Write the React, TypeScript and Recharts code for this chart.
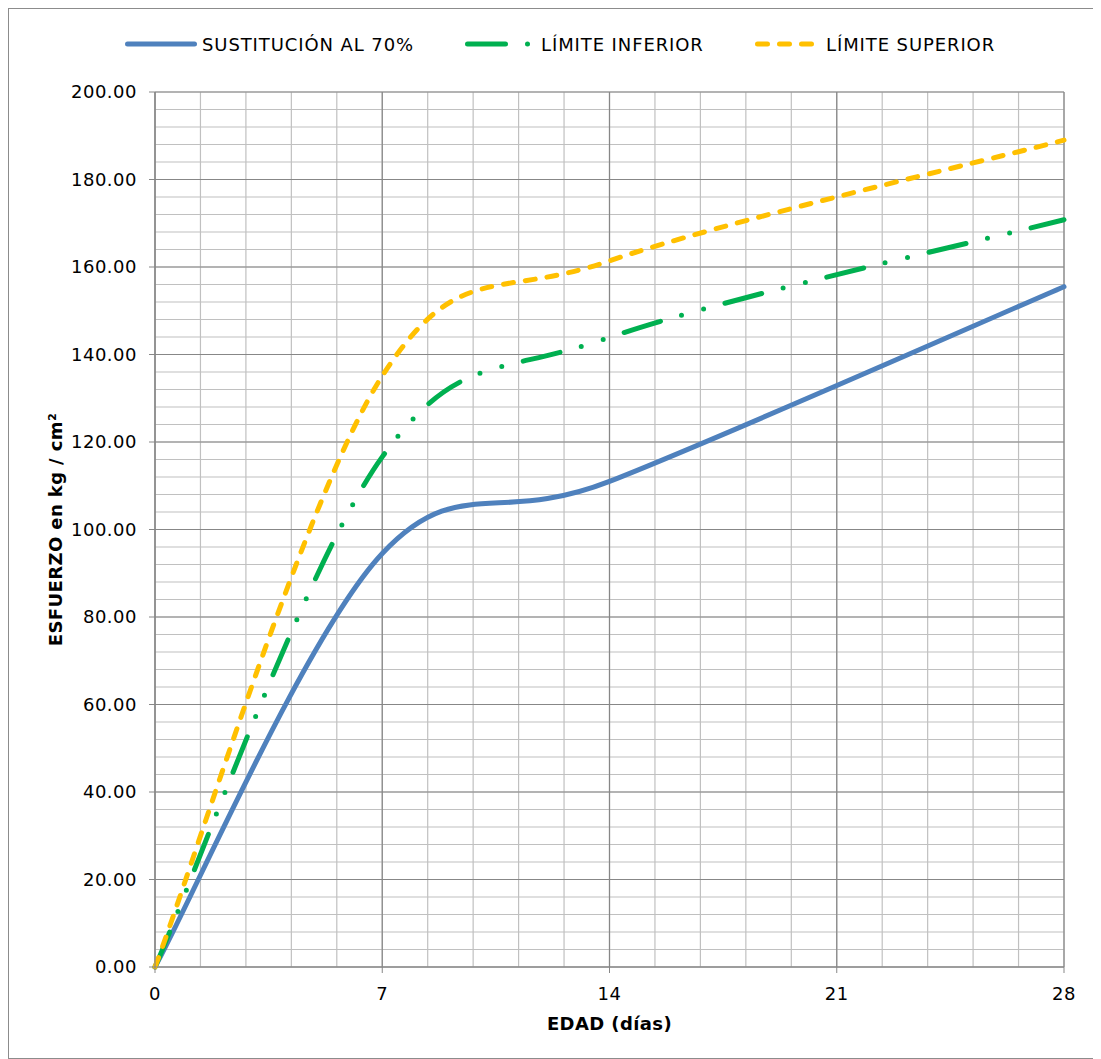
import React from 'react';
import { LineChart, Line, XAxis, YAxis, CartesianGrid, Legend, Label } from 'recharts';

// ---- data ----
const DAYS = [0, 7, 14, 28];
const SUSTITUCION_70 = [0, 94.5, 111, 155.5];
const LIMITE_INFERIOR = [0, 116.6, 143.9, 170.8];
const LIMITE_SUPERIOR = [0, 135.1, 161.4, 189];

const X_TICKS = [0, 7, 14, 21, 28];
const Y_TICKS = [0, 20, 40, 60, 80, 100, 120, 140, 160, 180, 200];
const X_MINOR = [0, 1.4, 2.8, 4.2, 5.6, 7, 8.4, 9.8, 11.2, 12.6, 14, 15.4, 16.8, 18.2, 19.6, 21, 22.4, 23.8, 25.2, 26.6, 28];
const Y_MINOR = Array.from({ length: 51 }, (_, i) => i * 4);

const SERIES_NAMES = ['SUSTITUCIÓN AL 70%', 'LÍMITE INFERIOR', 'LÍMITE SUPERIOR'];

const data = DAYS.map((d, i) => ({
  day: d,
  sust: SUSTITUCION_70[i],
  inf: LIMITE_INFERIOR[i],
  sup: LIMITE_SUPERIOR[i],
}));

const FONT = "Verdana, 'DejaVu Sans', sans-serif";
const BLUE = '#4F81BD';
const GREEN = '#00B050';
const YELLOW = '#FFC000';
const GREEN_DASH = '38 22 0 23 0 22';
const YELLOW_DASH = '10 12';

// Excel-like smoothed line (Catmull-Rom style Bezier)
const TENSION = 1 / 6;
function excelSmooth(context: any) {
  let pts: number[][] = [];
  return {
    areaStart() {},
    areaEnd() {},
    lineStart() {
      pts = [];
    },
    point(x: number, y: number) {
      pts.push([+x, +y]);
    },
    lineEnd() {
      const n = pts.length;
      if (!n) return;
      context.moveTo(pts[0][0], pts[0][1]);
      for (let i = 0; i < n - 1; i++) {
        const p0 = pts[Math.max(i - 1, 0)];
        const p1 = pts[i];
        const p2 = pts[i + 1];
        const p3 = pts[Math.min(i + 2, n - 1)];
        context.bezierCurveTo(
          p1[0] + (p2[0] - p0[0]) * TENSION,
          p1[1] + (p2[1] - p0[1]) * TENSION,
          p2[0] - (p3[0] - p1[0]) * TENSION,
          p2[1] - (p3[1] - p1[1]) * TENSION,
          p2[0],
          p2[1]
        );
      }
    },
  };
}

const renderLegend = () => (
  <div style={{ width: 1093, height: 40 }}>
    <svg width={1093} height={40} style={{ display: 'block' }}>
      <g fontFamily={FONT} fontSize={18} fill="#000" letterSpacing={0.9}>
        <line x1={119.5} y1={20} x2={186.5} y2={20} stroke={BLUE} strokeWidth={5} strokeLinecap="round" />
        <text x={194} y={20} dominantBaseline="central">{SERIES_NAMES[0]}</text>
        <line x1={459.5} y1={20} x2={530} y2={20} stroke={GREEN} strokeWidth={5} strokeLinecap="round" strokeDasharray={GREEN_DASH} />
        <text x={533} y={20} dominantBaseline="central">{SERIES_NAMES[1]}</text>
        <line x1={749.5} y1={20} x2={807} y2={20} stroke={YELLOW} strokeWidth={5} strokeLinecap="round" strokeDasharray={YELLOW_DASH} />
        <text x={818} y={20} dominantBaseline="central">{SERIES_NAMES[2]}</text>
      </g>
    </svg>
  </div>
);

const XTitle = (p: any) => {
  const vb = p.viewBox || { x: 147, y: 959, width: 909 };
  return (
    <text x={vb.x + vb.width / 2} y={vb.y + 63} textAnchor="middle" fontFamily={FONT} fontSize={18} fontWeight="bold" fill="#000" letterSpacing={0.4}>
      EDAD (días)
    </text>
  );
};

const YTitle = (p: any) => {
  const vb = p.viewBox || { x: 0, y: 84, height: 875 };
  const cx = 47;
  const cy = vb.y + vb.height / 2;
  return (
    <text x={cx} y={cy} transform={`rotate(-90 ${cx} ${cy})`} textAnchor="middle" dominantBaseline="central" fontFamily={FONT} fontSize={18} fontWeight="bold" fill="#000" letterSpacing={0.4}>
      ESFUERZO en kg / cm²
    </text>
  );
};

export default function App() {
  return (
    <div style={{ position: 'relative', width: 1093, height: 1051 }}>
      <LineChart width={1093} height={1051} data={data} margin={{ top: 44, right: 37, bottom: 0, left: 0 }}>
        <Legend verticalAlign="top" content={renderLegend} wrapperStyle={{ top: 16, left: 0, width: 1093, height: 40 }} />
        <CartesianGrid verticalValues={X_MINOR} horizontalValues={Y_MINOR} stroke="#C0C0C0" strokeWidth={1.2} />
        <CartesianGrid verticalValues={X_TICKS} horizontalValues={Y_TICKS} stroke="#878787" strokeWidth={1.2} />
        <XAxis
          type="number"
          dataKey="day"
          domain={[0, 28]}
          ticks={X_TICKS}
          interval={0}
          height={92}
          tickSize={6}
          tickMargin={14}
          axisLine={{ stroke: '#878787', strokeWidth: 1.2 }}
          tickLine={{ stroke: '#878787' }}
          tick={{ fill: '#000', fontSize: 18, fontFamily: FONT, letterSpacing: 0.5 }}
        >
          <Label content={XTitle} />
        </XAxis>
        <YAxis
          type="number"
          domain={[0, 200]}
          ticks={Y_TICKS}
          interval={0}
          width={147}
          tickSize={6}
          tickMargin={12}
          tickFormatter={(v: number) => v.toFixed(2)}
          axisLine={{ stroke: '#878787', strokeWidth: 1.2 }}
          tickLine={{ stroke: '#878787' }}
          tick={{ fill: '#000', fontSize: 18, fontFamily: FONT, letterSpacing: 0.5 }}
        >
          <Label content={YTitle} />
        </YAxis>
        <Line dataKey="sust" name={SERIES_NAMES[0]} type={excelSmooth as any} stroke={BLUE} strokeWidth={5} strokeLinecap="round" dot={false} activeDot={false} isAnimationActive={false} />
        <Line dataKey="inf" name={SERIES_NAMES[1]} type={excelSmooth as any} stroke={GREEN} strokeWidth={5} strokeLinecap="round" strokeDasharray={GREEN_DASH} dot={false} activeDot={false} isAnimationActive={false} />
        <Line dataKey="sup" name={SERIES_NAMES[2]} type={excelSmooth as any} stroke={YELLOW} strokeWidth={5} strokeLinecap="round" strokeDasharray={YELLOW_DASH} dot={false} activeDot={false} isAnimationActive={false} />
      </LineChart>
      <div style={{ position: 'absolute', left: 0, top: 0, width: 1093, height: 1051, boxSizing: 'border-box', border: '1px solid #8C8C8C', pointerEvents: 'none' }} />
    </div>
  );
}
